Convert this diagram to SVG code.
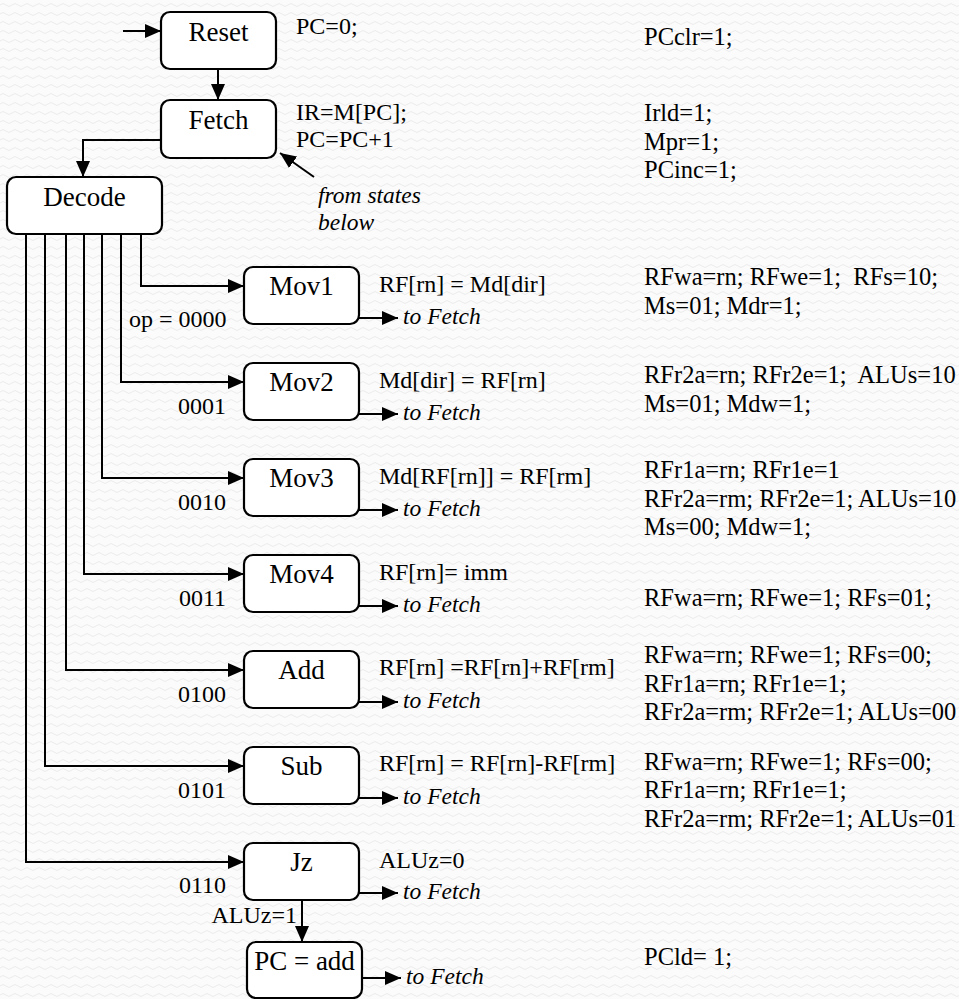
<svg xmlns="http://www.w3.org/2000/svg" width="959" height="999" viewBox="0 0 959 999">
<defs>
<pattern id="bg" width="12" height="9" patternUnits="userSpaceOnUse">
<rect width="12" height="9" fill="#fbfbfb"/>
<path d="M0,5 Q3,2 6,5 T12,5" fill="none" stroke="#ececec" stroke-width="1"/>
</pattern>
<marker id="ah" viewBox="0 0 16 14" markerWidth="16" markerHeight="14" refX="16" refY="7" orient="auto" markerUnits="userSpaceOnUse">
<path d="M0,0 L16,7 L0,14 z" fill="#000"/>
</marker>
<style>
.box{fill:#fff;stroke:#000;stroke-width:2.2}
.nl{font-family:"Liberation Serif","Times New Roman",serif;font-size:27px;text-anchor:middle;fill:#000}
.t{font-family:"Liberation Serif","Times New Roman",serif;font-size:24px;fill:#000;white-space:pre}
.r{font-family:"Liberation Serif","Times New Roman",serif;font-size:24.5px;fill:#000;white-space:pre}
.i{font-family:"Liberation Serif","Times New Roman",serif;font-size:23.5px;font-style:italic;fill:#000}
.op{text-anchor:end}
.c{fill:none;stroke:#000;stroke-width:2;marker-end:url(#ah)}
</style>
</defs>
<rect width="959" height="999" fill="url(#bg)"/>

<g id="connectors">
<path class="c" d="M123,31 H161"/>
<path class="c" d="M218,69 V100"/>
<path class="c" d="M161,140 H83 V177"/>
<path class="c" d="M314,177 L280,153"/>
<path class="c" d="M141,234 V286 H244"/>
<path class="c" d="M121,234 V382 H244"/>
<path class="c" d="M102,234 V478 H244"/>
<path class="c" d="M84,234 V574 H244"/>
<path class="c" d="M66,234 V670 H244"/>
<path class="c" d="M45,234 V766 H244"/>
<path class="c" d="M26,234 V862 H244"/>
<path class="c" d="M359,318 H398"/>
<path class="c" d="M359,414 H398"/>
<path class="c" d="M359,510 H398"/>
<path class="c" d="M359,606 H398"/>
<path class="c" d="M359,702 H398"/>
<path class="c" d="M359,798 H398"/>
<path class="c" d="M359,893 H398"/>
<path class="c" d="M302,900 V942"/>
<path class="c" d="M362,978 H401"/>
</g>

<g id="reset">
<rect class="box" x="161" y="12" width="115" height="57" rx="9"/>
<text class="nl" x="218.5" y="41">Reset</text>
</g>
<g id="fetch">
<rect class="box" x="161" y="100" width="115" height="58" rx="9"/>
<text class="nl" x="218.5" y="129">Fetch</text>
</g>
<g id="decode">
<rect class="box" x="7" y="177" width="155" height="57" rx="9"/>
<text class="nl" x="84.5" y="206">Decode</text>
</g>
<g id="mov1">
<rect class="box" x="244" y="267" width="115" height="57" rx="9"/>
<text class="nl" x="301.5" y="295">Mov1</text>
</g>
<g id="mov2">
<rect class="box" x="244" y="363" width="115" height="57" rx="9"/>
<text class="nl" x="301.5" y="391">Mov2</text>
</g>
<g id="mov3">
<rect class="box" x="244" y="459" width="115" height="57" rx="9"/>
<text class="nl" x="301.5" y="487">Mov3</text>
</g>
<g id="mov4">
<rect class="box" x="244" y="555" width="115" height="57" rx="9"/>
<text class="nl" x="301.5" y="583">Mov4</text>
</g>
<g id="add">
<rect class="box" x="244" y="651" width="115" height="57" rx="9"/>
<text class="nl" x="301.5" y="679">Add</text>
</g>
<g id="sub">
<rect class="box" x="244" y="747" width="115" height="57" rx="9"/>
<text class="nl" x="301.5" y="775">Sub</text>
</g>
<g id="jz">
<rect class="box" x="244" y="843" width="115" height="57" rx="9"/>
<text class="nl" x="301.5" y="871">Jz</text>
</g>
<g id="pcadd">
<rect class="box" x="247" y="942" width="115" height="56" rx="9"/>
<text class="nl" x="304.5" y="970">PC = add</text>
</g>

<g id="labels">
<text class="t" x="296" y="34">PC=0;</text>
<text class="t" x="296" y="120">IR=M[PC];</text>
<text class="t" x="296" y="147">PC=PC+1</text>
<text class="i" x="318" y="203">from states</text>
<text class="i" x="318" y="230">below</text>

<text class="t" x="129" y="327">op = 0000</text>
<text class="t op" x="226" y="414">0001</text>
<text class="t op" x="226" y="510">0010</text>
<text class="t op" x="226" y="606">0011</text>
<text class="t op" x="226" y="702">0100</text>
<text class="t op" x="226" y="798">0101</text>
<text class="t op" x="226" y="893">0110</text>
<text class="t op" x="297" y="923">ALUz=1</text>

<text class="t" x="379" y="292">RF[rn] = Md[dir]</text>
<text class="t" x="379" y="388">Md[dir] = RF[rn]</text>
<text class="t" x="379" y="484">Md[RF[rn]] = RF[rm]</text>
<text class="t" x="379" y="580">RF[rn]= imm</text>
<text class="t" x="379" y="675">RF[rn] =RF[rn]+RF[rm]</text>
<text class="t" x="379" y="771">RF[rn] = RF[rn]-RF[rm]</text>
<text class="t" x="379" y="868">ALUz=0</text>

<text class="i" x="403" y="324">to Fetch</text>
<text class="i" x="403" y="420">to Fetch</text>
<text class="i" x="403" y="516">to Fetch</text>
<text class="i" x="403" y="612">to Fetch</text>
<text class="i" x="403" y="708">to Fetch</text>
<text class="i" x="403" y="804">to Fetch</text>
<text class="i" x="403" y="899">to Fetch</text>
<text class="i" x="406" y="984">to Fetch</text>

<text class="r" x="644" y="45">PCclr=1;</text>
<text class="r" x="644" y="121">Irld=1;</text>
<text class="r" x="644" y="150">Mpr=1;</text>
<text class="r" x="644" y="178">PCinc=1;</text>
<text class="r" x="644" y="285">RFwa=rn; RFwe=1;  RFs=10;</text>
<text class="r" x="644" y="314">Ms=01; Mdr=1;</text>
<text class="r" x="644" y="383">RFr2a=rn; RFr2e=1;  ALUs=10</text>
<text class="r" x="644" y="412">Ms=01; Mdw=1;</text>
<text class="r" x="644" y="478">RFr1a=rn; RFr1e=1</text>
<text class="r" x="644" y="507">RFr2a=rm; RFr2e=1; ALUs=10</text>
<text class="r" x="644" y="535">Ms=00; Mdw=1;</text>
<text class="r" x="644" y="606">RFwa=rn; RFwe=1; RFs=01;</text>
<text class="r" x="644" y="663">RFwa=rn; RFwe=1; RFs=00;</text>
<text class="r" x="644" y="692">RFr1a=rn; RFr1e=1;</text>
<text class="r" x="644" y="720">RFr2a=rm; RFr2e=1; ALUs=00</text>
<text class="r" x="644" y="770">RFwa=rn; RFwe=1; RFs=00;</text>
<text class="r" x="644" y="798">RFr1a=rn; RFr1e=1;</text>
<text class="r" x="644" y="827">RFr2a=rm; RFr2e=1; ALUs=01</text>
<text class="r" x="644" y="965">PCld= 1;</text>
</g>
</svg>
